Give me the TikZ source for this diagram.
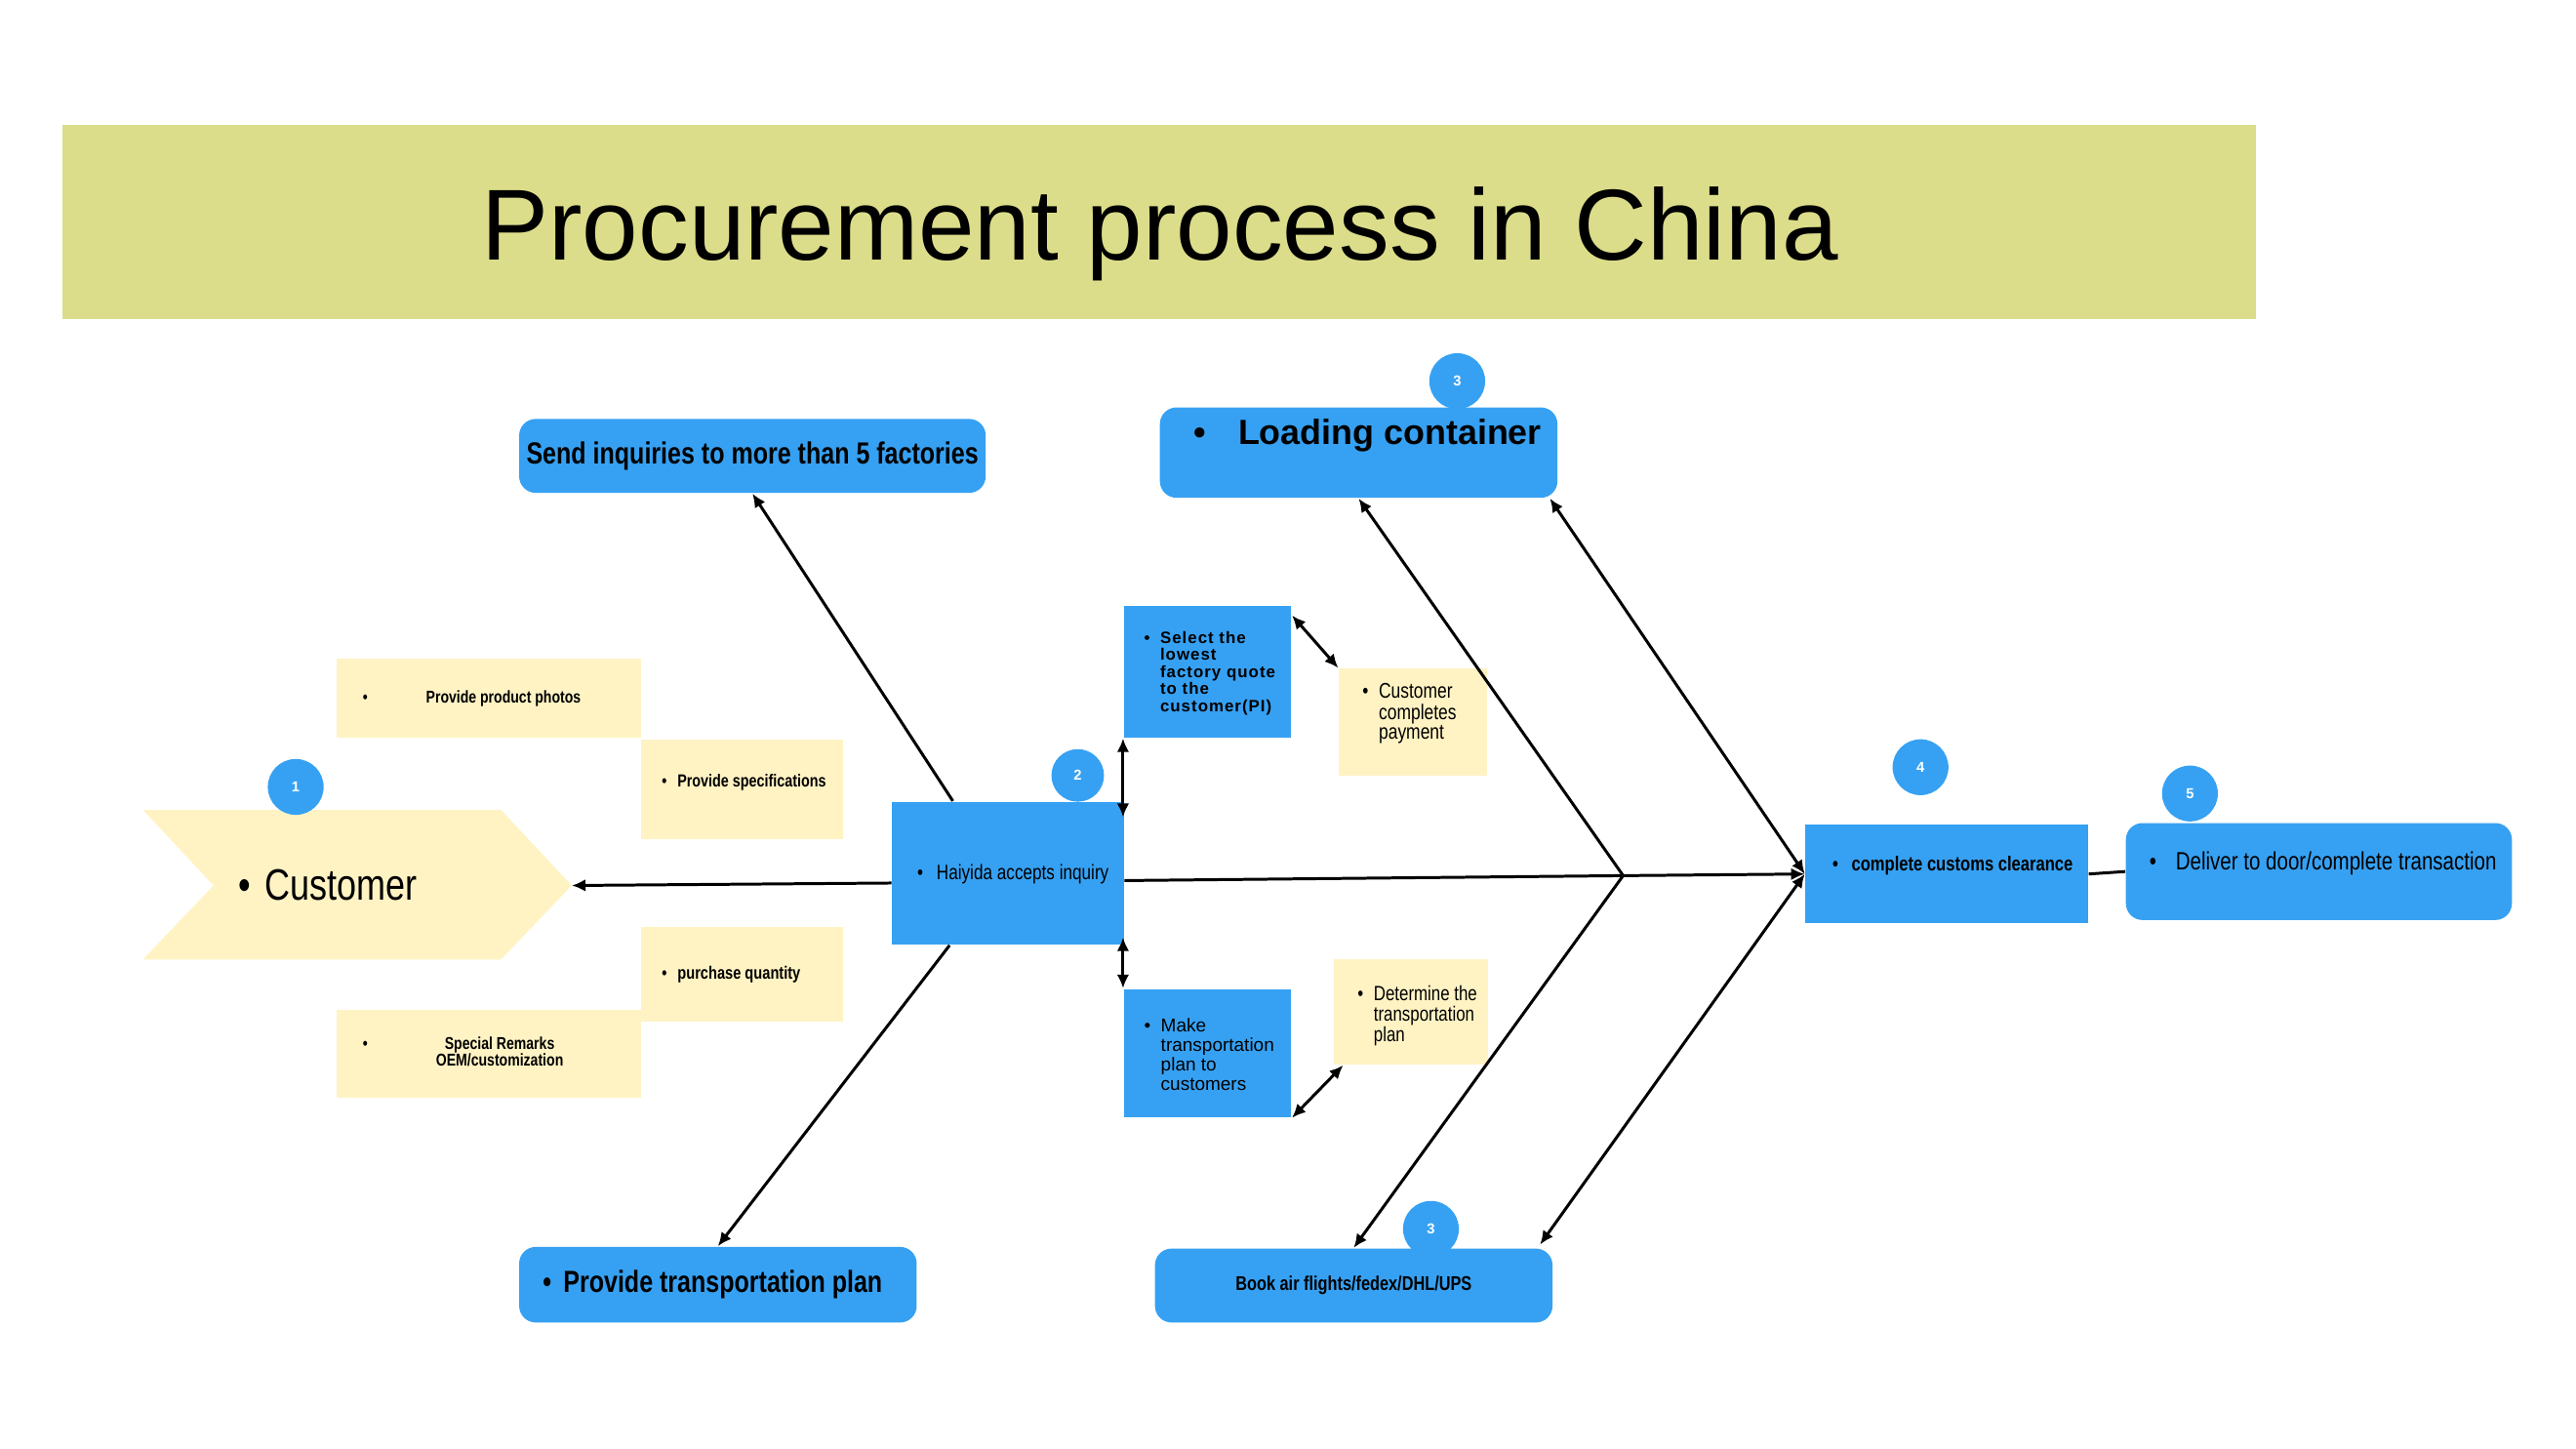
\documentclass[tikz,border=0pt]{standalone}
\usepackage{fontspec}
\setmainfont{Liberation Sans}
\newfontfamily\narrowfont[FakeStretch=0.8]{Liberation Sans}
\newfontfamily\spacedfont[LetterSpace=6.0]{Liberation Sans}
\usetikzlibrary{arrows.meta}

\definecolor{haiblue}{RGB}{54,161,243}
\definecolor{notepale}{RGB}{255,243,196}
\definecolor{titleband}{RGB}{220,221,138}

\newcommand{\upx}{0.016837cm}
\newcommand{\fs}[2]{\fontsize{#1}{#2}\selectfont}
\newcommand{\blist}[2][3pt]{\begin{tabular}{@{}l@{\hspace{#1}}l@{}}\textbullet & #2\end{tabular}}

\begin{document}
\begin{tikzpicture}[x=\upx, y=-\upx]
\tikzset{boxw/.style={minimum width=#1*\upx},
boxh/.style={minimum height=#1*\upx},
bluebox/.style={fill=haiblue, inner sep=0pt},
roundbox/.style={bluebox, rounded corners=0.17cm},
notebox/.style={fill=notepale, inner sep=0pt},
stepnum/.style={circle, fill=haiblue, text=white, inner sep=0pt,
minimum size=34*\upx, font=\fs{4.2}{5}\bfseries},
txt/.style={inner sep=0pt, anchor=west, align=left},
listtxt/.style={inner sep=0pt, anchor=north west},
bone/.style={line width=0.85pt, -{Latex[length=4pt,width=3.6pt]}},
twoway/.style={line width=0.85pt,
{Latex[length=4pt,width=3.6pt]}-{Latex[length=4pt,width=3.6pt]}},
}
\fill[white] (0,0) rectangle (1568,882);
\useasboundingbox (0,0) rectangle (1568,882);

% title
\node[fill=titleband, boxw=1335, boxh=118, inner sep=0pt] (band) at (705.5,135) {};
\node[anchor=base, inner sep=0pt, font=\fs{29.4}{35}] (title) at (706,158.4)
{Procurement process in China};

% customer (head)
\fill[notepale] (87,493) -- (305,493) -- (348,539) -- (305,584) -- (87,584)
-- (130,539) -- cycle;
\coordinate (custtip) at (348,539);
\node[txt, font=\narrowfont\fs{12.8}{14}] (customer) at (145,539)
{\textbullet\hspace{4pt}Customer};
\node[stepnum] (n1) at (180,479) {1};

% customer notes
\node[notebox, boxw=185, boxh=48] (photos) at (297.5,425) {};
\node[notebox, boxw=123, boxh=61] (specs) at (451.5,480.5) {};
\node[notebox, boxw=123, boxh=58] (qty) at (451.5,593) {};
\node[notebox, boxw=185, boxh=53] (remarks) at (297.5,641.5) {};
\node[txt, font=\narrowfont\bfseries\fs{5}{6}] (photostxt) at (220.5,425)
{\textbullet\hspace{17pt}Provide product photos};
\node[txt, font=\narrowfont\bfseries\fs{5.1}{6}] (specstxt) at (402.5,476)
{\textbullet\hspace{3.1pt}Provide specifications};
\node[txt, font=\narrowfont\bfseries\fs{5.2}{6}] (qtytxt) at (402.5,593)
{\textbullet\hspace{3.1pt}purchase quantity};
\node[txt, font=\narrowfont\bfseries\fs{5}{4.8}] (remarkstxt) at (220.5,641.5)
{\begin{tabular}{@{}l@{\hspace{19.9pt}}c@{}}\textbullet & Special Remarks\\ & OEM/customization\end{tabular}};

% step circles behind boxes
\node[stepnum, minimum size=32*\upx] (n2) at (656,472) {2};
\node[stepnum] (n3a) at (887,232) {3};
\node[stepnum] (n3b) at (871,748) {3};
\node[stepnum] (n4) at (1169,467) {4};
\node[stepnum] (n5) at (1333,483) {5};

% blue boxes
\node[bluebox, boxw=141, boxh=87] (haiyida) at (613.5,531.5) {};
\node[bluebox, boxw=102, boxh=80] (selectbox) at (735,409) {};
\node[bluebox, boxw=102, boxh=78] (makebox) at (735,641) {};
\node[bluebox, boxw=172, boxh=60] (customs) at (1185,532) {};
\node[roundbox, boxw=284, boxh=45] (sendbox) at (458,277.5)
{\narrowfont\bfseries\fs{8.9}{10}Send inquiries to more than 5 factories};
\node[roundbox, boxw=242, boxh=55] (loadbox) at (827,275.5) {};
\node[roundbox, boxw=242, boxh=46] (planbox) at (437,782) {};
\node[roundbox, boxw=242, boxh=45] (bookbox) at (824,782.5)
{\narrowfont\bfseries\fs{5.8}{6}Book air flights/fedex/DHL/UPS};
\node[roundbox, boxw=235, boxh=59] (deliver) at (1411.5,530.5) {};

% pale boxes next to the bones
\node[notebox, boxw=90, boxh=65] (payment) at (860,439.5) {};
\node[notebox, boxw=94, boxh=64] (determine) at (859,616) {};

% texts
\node[txt, font=\bfseries\fs{10.2}{12}] (loadtxt) at (726,265)
{\textbullet\hspace{9.5pt}Loading container};
\node[txt, font=\narrowfont\bfseries\fs{8.9}{10}] (plantxt) at (330,782)
{\textbullet\hspace{3.5pt}Provide transportation plan};
\node[txt, font=\narrowfont\fs{6.1}{7}] (haiyidatxt) at (558,532)
{\textbullet\hspace{3.9pt}Haiyida accepts inquiry};
\node[txt, font=\narrowfont\bfseries\fs{5.9}{7}] (customstxt) at (1115,527)
{\textbullet\hspace{3.9pt}complete customs clearance};
\node[txt, font=\narrowfont\fs{7.3}{8}] (delivertxt) at (1308,525.5)
{\textbullet\hspace{5.6pt}Deliver to door/complete transaction};
\node[listtxt, font=\spacedfont\bfseries\fs{4.8}{4.95}] (selecttxt) at (696,384)
{\blist{Select the\\ & lowest\\ & factory quote\\ & to the\\ & customer(PI)}};
\node[listtxt, font=\fs{5.4}{5.75}] (maketxt) at (696,619)
{\blist{Make\\ & transportation\\ & plan to\\ & customers}};
\node[listtxt, font=\narrowfont\fs{6.2}{5.75}] (paymenttxt) at (829,415.5)
{\blist{Customer\\ & completes\\ & payment}};
\node[listtxt, font=\narrowfont\fs{6}{5.5}] (determinetxt) at (826,599.5)
{\blist{Determine the\\ & transportation\\ & plan}};

% spine and bones
\coordinate (fork) at (988,533);
\draw[bone] (haiyida.west) ++(0,6) -- (custtip);
\draw[bone] (haiyida.east) ++(0,4.5) -- (fork) -- (customs.west);
\draw[bone] (haiyida.north) ++(-33.5,0) -- (sendbox.south);
\draw[bone] (haiyida.south) ++(-35.5,0) -- (planbox.north);
\draw[bone] (fork) -- (loadbox.south);
\draw[bone] (fork) -- (bookbox.north);
\draw[twoway] (customs.west) -- ([xshift=-5*\upx]loadbox.south east);
\draw[twoway] (customs.west) -- ([xshift=-8*\upx, yshift=2*\upx]bookbox.north east);
\draw[line width=0.85pt] (customs.east) -- (deliver.west);
\draw[twoway] (selectbox.south west) -- ++(0,48);
\draw[twoway] (makebox.north west) -- ++(0,-31);
\draw[twoway] (selectbox.north east) ++(0,6) -- (payment.north west);
\draw[twoway] (makebox.south east) -- ([xshift=6*\upx]determine.south west);
\end{tikzpicture}
\end{document}
